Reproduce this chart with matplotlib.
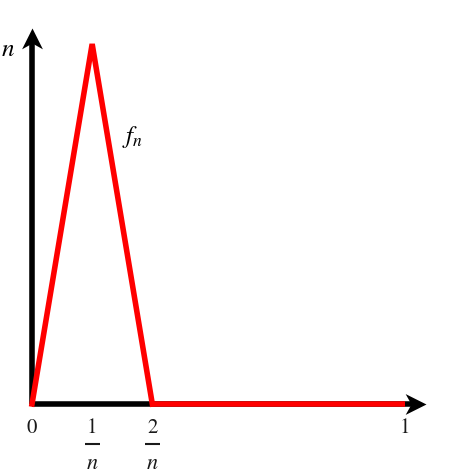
import matplotlib
matplotlib.use("Agg")
import matplotlib.pyplot as plt
from matplotlib.path import Path
import numpy as np

# data: triangle function f_n on [0, 1]
n_val = 6.2
x_vals = [0.0, 1.0 / n_val, 2.0 / n_val, 1.0]
y_vals = [0.0, 1.0, 0.0, 0.0]
tick_pos = [0.0, 1.0 / n_val, 2.0 / n_val, 1.0]
tick_num = ["0", "1", "2", "1"]
tick_den = [None, "n", "n", None]

plt.rcParams["mathtext.fontset"] = "stix"
plt.rcParams["font.family"] = "STIXGeneral"

fig = plt.figure(figsize=(4.5, 4.77), dpi=100)
ax = fig.add_axes([0, 0, 1, 1])
ax.set_xlim(-32 / 373, 418 / 373)
ax.set_ylim(-72 / 360, 405 / 360)
ax.axis("off")


def head_path(angle):
    v = np.array([[0, 0], [-1, 0.5], [-0.72, 0], [-1, -0.5], [0, 0]])
    c, s = np.cos(angle), np.sin(angle)
    r = v @ np.array([[c, s], [-s, c]])
    return Path(r, [Path.MOVETO, Path.LINETO, Path.LINETO, Path.LINETO,
                    Path.CLOSEPOLY])


x_end = 1.055
y_end = 1.045
# axis shafts
ax.plot([0, x_end - 0.02], [0, 0], color="black", lw=4, zorder=1,
        solid_capstyle="butt")
ax.plot([0, 0], [0, y_end - 0.03], color="black", lw=4, zorder=1,
        solid_capstyle="butt")

ax.plot(x_vals[:3], y_vals[:3], color="red", lw=4, solid_joinstyle="miter",
        zorder=2)
ax.plot(x_vals[2:], y_vals[2:], color="red", lw=4, zorder=2,
        solid_capstyle="butt")

# arrowheads
ax.plot([x_end], [0], marker=head_path(0), markersize=30, color="black",
        markeredgewidth=0, zorder=3)
ax.plot([0], [y_end], marker=head_path(np.pi / 2), markersize=30,
        color="black", markeredgewidth=0, zorder=3)

fs = 15
for xp, num, den in zip(tick_pos, tick_num, tick_den):
    ax.text(xp, -0.065, num, ha="center", va="center", fontsize=fs,
            color="#1a1a1a")
    if den is not None:
        ax.plot([xp - 0.02, xp + 0.02], [-0.111, -0.111], color="#1a1a1a",
                lw=1.5, solid_capstyle="butt")
        ax.text(xp, -0.165, r"$%s$" % den, ha="center", va="center",
                fontsize=fs + 1, color="#1a1a1a")

ax.text(-0.045, 0.985, r"$n$", ha="right", va="center", fontsize=18)
ax.text(0.27, 0.745, r"$f_n$", ha="center", va="center", fontsize=18)

fig.savefig("out.png", dpi=100)
